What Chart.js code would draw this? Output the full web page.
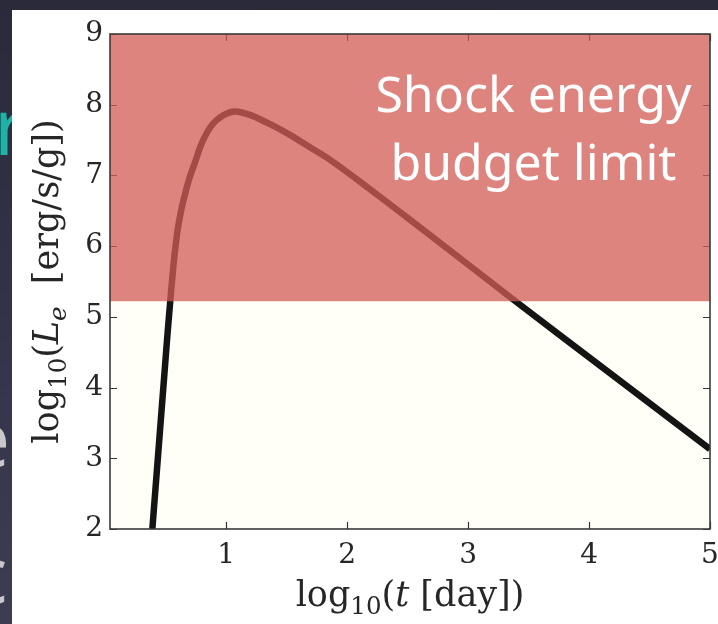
<!DOCTYPE html>
<html>
<head>
<meta charset="utf-8">
<script src="https://cdn.jsdelivr.net/npm/chart.js@4/dist/chart.umd.min.js"></script>
<style>
  html, body { margin: 0; padding: 0; }
  body {
    width: 718px; height: 624px; overflow: hidden; position: relative;
    background: linear-gradient(180deg, #2a2a3b 0%, #35354b 60%, #3d3d52 100%);
  }
  .slide { position: absolute; font-family: "Noto Sans", sans-serif; font-size: 78px; line-height: 1; }
  #panel { position: absolute; left: 12px; top: 10px; width: 706px; height: 614px; background: #ffffff; }
  canvas { display: block; }
</style>
</head>
<body>
<!-- bits of the slide text behind the figure -->
<div class="slide" style="left:-6px; top:86px; color:#1fb3a8;">r</div>
<div class="slide" style="left:-34px; top:398px; color:#c8c8cc;">e</div>
<div class="slide" style="left:-30px; top:534px; color:#c8c8cc;">c</div>
<div id="panel"><canvas id="chart" width="706" height="614"></canvas></div>
<script>
// log10(t [day]) and log10(L_e)
const tLog = [0.39, 0.415, 0.44, 0.465, 0.49, 0.515, 0.537, 0.555, 0.575, 0.60, 0.63, 0.661, 0.70, 0.744, 0.79, 0.84, 0.89, 0.95, 1.00, 1.05, 1.10, 1.17, 1.25, 1.38, 1.53, 1.70, 1.86, 2.10, 2.60, 3.40, 4.20, 5.00];
const logL = [2.00, 2.55, 3.10, 3.65, 4.20, 4.75, 5.20, 5.55, 5.90, 6.24, 6.52, 6.74, 6.98, 7.19, 7.42, 7.60, 7.73, 7.82, 7.87, 7.90, 7.90, 7.87, 7.82, 7.71, 7.57, 7.39, 7.22, 6.92, 6.27, 5.21, 4.17, 3.13];

const bandLimit = 5.22;           // shock energy budget limit
const xRange = [0.04, 5];
const yRange = [2, 9];
const xTicks = [1, 2, 3, 4, 5];
const yTicks = [2, 3, 4, 5, 6, 7, 8, 9];
const noteLines = ['Shock energy', 'budget limit'];

const serif = '"DejaVu Serif", serif';

// draw a small mathtext-like string: parts = [{t, it, sub}]
function drawMath(ctx, parts, x, y, size) {
    const fontOf = p => (p.it ? 'italic ' : '') + (p.sub ? size * 0.7 : size) + 'px ' + serif;
    let w = 0;
    parts.forEach(p => { ctx.font = fontOf(p); w += ctx.measureText(p.t).width; });
    let cx = x - w / 2;
    ctx.textAlign = 'left';
    ctx.textBaseline = 'alphabetic';
    parts.forEach(p => {
        ctx.font = fontOf(p);
        ctx.fillText(p.t, cx, p.sub ? y + size * 0.22 : y);
        cx += ctx.measureText(p.t).width;
    });
}

const figurePlugin = {
    id: 'figure',
    beforeDatasetsDraw(chart) {
        const { ctx, chartArea: a, scales } = chart;
        ctx.save();
        ctx.fillStyle = '#fffff8';
        ctx.fillRect(a.left, a.top, a.right - a.left, a.bottom - a.top);
        // inward ticks on all four sides
        ctx.strokeStyle = '#333333';
        ctx.lineWidth = 1.2;
        ctx.beginPath();
        xTicks.forEach(v => {
            const px = Math.round(scales.x.getPixelForValue(v)) + 0.5;
            ctx.moveTo(px, a.bottom); ctx.lineTo(px, a.bottom - 7);
            ctx.moveTo(px, a.top); ctx.lineTo(px, a.top + 7);
        });
        yTicks.forEach(v => {
            const py = Math.round(scales.y.getPixelForValue(v)) + 0.5;
            ctx.moveTo(a.left, py); ctx.lineTo(a.left + 7, py);
            ctx.moveTo(a.right, py); ctx.lineTo(a.right - 7, py);
        });
        ctx.stroke();
        ctx.restore();
    },
    afterDatasetsDraw(chart) {
        const { ctx, chartArea: a, scales } = chart;
        ctx.save();
        ctx.strokeStyle = '#3a3a3a';
        ctx.lineWidth = 1.6;
        ctx.strokeRect(a.left, a.top, a.right - a.left, a.bottom - a.top);
        // annotation
        ctx.fillStyle = '#ffffff';
        ctx.font = '50px "Noto Sans", sans-serif';
        ctx.textAlign = 'center';
        ctx.textBaseline = 'alphabetic';
        const cx = scales.x.getPixelForValue(3.54);
        ctx.fillText(noteLines[0], cx, scales.y.getPixelForValue(7.90));
        ctx.fillText(noteLines[1], cx, scales.y.getPixelForValue(6.94));
        ctx.restore();
    },
    afterDraw(chart) {
        const { ctx, chartArea: a } = chart;
        ctx.save();
        ctx.fillStyle = '#262626';
        drawMath(ctx, [{ t: 'log' }, { t: '10', sub: true }, { t: '(' }, { t: 't', it: true }, { t: ' [day])' }],
            (a.left + a.right) / 2, 596, 35);
        ctx.translate(46, (a.top + a.bottom) / 2);
        ctx.rotate(-Math.PI / 2);
        drawMath(ctx, [{ t: 'log' }, { t: '10', sub: true }, { t: '(' }, { t: 'L', it: true }, { t: 'e', it: true, sub: true },
            { t: '  [erg/s/g])' }], 0, 0, 35);
        ctx.restore();
    }
};

const ctx = document.getElementById('chart').getContext('2d');
const chart = new Chart(ctx, {
    type: 'line',
    data: {
        datasets: [
            {
                // red band drawn last so it sits over the curve
                data: [{ x: xRange[0], y: bandLimit }, { x: xRange[1], y: bandLimit }],
                fill: 'end',
                backgroundColor: 'rgba(212, 93, 88, 0.76)',
                borderWidth: 0,
                pointRadius: 0,
                clip: 0
            },
            {
                data: tLog.map((x, i) => ({ x: x, y: logL[i] })),
                borderColor: '#141414',
                borderWidth: 6.5,
                pointRadius: 0,
                fill: false,
                tension: 0.35,
                clip: 0
            }
        ]
    },
    options: {
        responsive: false,
        animation: false,
        devicePixelRatio: 1,
        layout: { padding: { top: 24, right: 8, left: 0, bottom: 0 } },
        plugins: { legend: { display: false }, tooltip: { enabled: false } },
        scales: {
            x: {
                type: 'linear',
                min: xRange[0],
                max: xRange[1],
                afterBuildTicks: s => { s.ticks = xTicks.map(v => ({ value: v })); },
                afterFit: s => { s.height = 95; s.paddingLeft = 0; s.paddingRight = 0; },
                grid: { display: false, drawTicks: false },
                border: { display: false },
                ticks: { color: '#262626', font: { family: serif, size: 28 }, padding: 10, maxRotation: 0 }
            },
            y: {
                type: 'linear',
                min: yRange[0],
                max: yRange[1],
                afterBuildTicks: s => { s.ticks = yTicks.map(v => ({ value: v })); },
                afterFit: s => { s.width = 98; },
                grid: { display: false, drawTicks: false },
                border: { display: false },
                ticks: { color: '#262626', font: { family: serif, size: 28 }, padding: 7 }
            }
        }
    },
    plugins: [figurePlugin]
});
</script>
</body>
</html>
